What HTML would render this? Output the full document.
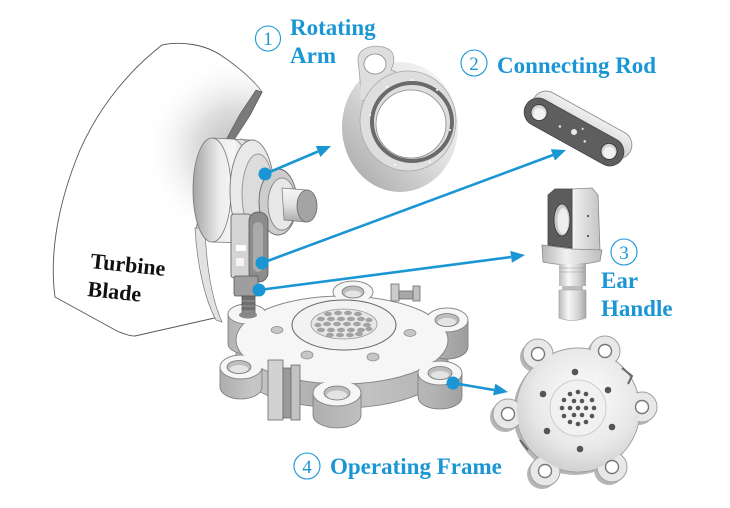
<!DOCTYPE html>
<html><head><meta charset="utf-8"><style>
html,body{margin:0;padding:0;background:#fff;}
svg{display:block;}
.lb{font-family:"Liberation Serif",serif;font-weight:bold;font-size:23px;fill:#1a96d4;}
.num{font-family:"Liberation Serif",serif;font-size:19px;fill:#1a96d4;}
.tb{font-family:"Liberation Serif",serif;font-weight:bold;font-size:22px;fill:#111;}
</style></head><body>
<svg width="730" height="508" viewBox="0 0 730 508" xmlns="http://www.w3.org/2000/svg">
<defs>
 <linearGradient id="hubG" gradientUnits="userSpaceOnUse" x1="193" y1="0" x2="252" y2="0">
  <stop offset="0" stop-color="#a4a4a4"/><stop offset="0.45" stop-color="#ececec"/><stop offset="0.7" stop-color="#f6f6f6"/><stop offset="1" stop-color="#c4c4c4"/>
 </linearGradient>
 <linearGradient id="shaftG" gradientUnits="userSpaceOnUse" x1="0" y1="188" x2="0" y2="222">
  <stop offset="0" stop-color="#f6f6f6"/><stop offset="0.5" stop-color="#e2e2e2"/><stop offset="1" stop-color="#a8a8a8"/>
 </linearGradient>
 <linearGradient id="wallG" gradientUnits="userSpaceOnUse" x1="214" y1="0" x2="470" y2="0">
  <stop offset="0" stop-color="#a8a8a8"/><stop offset="0.15" stop-color="#c6c6c6"/><stop offset="0.4" stop-color="#b0b0b0"/><stop offset="0.6" stop-color="#c2c2c2"/><stop offset="0.85" stop-color="#b4b4b4"/><stop offset="1" stop-color="#9c9c9c"/>
 </linearGradient>
 <linearGradient id="diskG" x1="1" y1="0" x2="0" y2="1">
  <stop offset="0" stop-color="#fbfbfb"/><stop offset="0.45" stop-color="#e0e0e0"/><stop offset="1" stop-color="#a2a2a2"/>
 </linearGradient>
 <radialGradient id="bladeShade" gradientUnits="userSpaceOnUse" cx="238" cy="150" r="95">
  <stop offset="0" stop-color="#bcbcbc"/><stop offset="0.45" stop-color="#dedede"/><stop offset="1" stop-color="#ffffff" stop-opacity="0"/>
 </radialGradient>
 <radialGradient id="smallG" cx="0.55" cy="0.4" r="0.6">
  <stop offset="0" stop-color="#fdfdfd"/><stop offset="0.7" stop-color="#e8e8e8"/><stop offset="1" stop-color="#d2d2d2"/>
 </radialGradient>
 <linearGradient id="earSh" gradientUnits="userSpaceOnUse" x1="558" y1="0" x2="588" y2="0">
  <stop offset="0" stop-color="#b4b4b4"/><stop offset="0.35" stop-color="#f8f8f8"/><stop offset="0.7" stop-color="#d0d0d0"/><stop offset="1" stop-color="#9a9a9a"/>
 </linearGradient>
 <linearGradient id="earFl" gradientUnits="userSpaceOnUse" x1="542" y1="0" x2="603" y2="0">
  <stop offset="0" stop-color="#b8b8b8"/><stop offset="0.4" stop-color="#f0f0f0"/><stop offset="1" stop-color="#bcbcbc"/>
 </linearGradient>
 <linearGradient id="earR" gradientUnits="userSpaceOnUse" x1="572" y1="0" x2="600" y2="0">
  <stop offset="0" stop-color="#f2f2f2"/><stop offset="1" stop-color="#c4c4c4"/>
 </linearGradient>
 <linearGradient id="rodB" x1="0" y1="0" x2="0" y2="1">
  <stop offset="0" stop-color="#f0f0f0"/><stop offset="1" stop-color="#c8c8c8"/>
 </linearGradient>
 <clipPath id="bladeClip"><path d="M162,45 C180,41 205,44 222,56 C240,68 255,82 262,92 L250,115 L228,140 L205,185 L196,230 C200,270 210,298 218,312 L219,317 L135,336 C128,336 122,333 117,331 L55,297 C50,260 55,210 80,150 C100,105 130,70 162,45 Z"/></clipPath>
</defs>

<!-- Turbine blade -->
<path d="M162,45 C180,41 205,44 222,56 C240,68 255,82 262,92 L250,115 L228,140 L205,185 L196,230 C200,270 210,298 218,312 L219,317 L135,336 C128,336 122,333 117,331 L55,297 C50,260 55,210 80,150 C100,105 130,70 162,45 Z" fill="#fff" stroke="#555" stroke-width="0.9"/>
<rect x="120" y="40" width="150" height="220" fill="url(#bladeShade)" clip-path="url(#bladeClip)"/>
<path d="M262,92 L256,90 L240,114 L226,140 L234,140 L249,117 Z" fill="#7a7a7a" stroke="#555" stroke-width="0.6"/>
<path d="M195,228 C197,265 205,300 216,320 L222,322 C212,300 206,265 205,228 Z" fill="#e2e2e2" stroke="#777" stroke-width="0.7"/>

<!-- Operating frame (big) walls -->
<g fill="url(#wallG)" stroke="#7a7a7a" stroke-width="0.8">
 <path d="M236,340 L236,364 A106,44 0 0 0 448,364 L448,340 Z"/>
 <path d="M228,314 L228,344 A19,10 0 0 0 266,344 L266,314 Z"/>
 <path d="M426,320 L426,347 A21,12 0 0 0 468,347 L468,320 Z"/>
 <path d="M418,373 L418,397 A22,12 0 0 0 462,397 L462,373 Z"/>
 <path d="M313,393 L313,415 A24,13 0 0 0 361,415 L361,393 Z"/>
 <path d="M220,367 L220,387 A21,12 0 0 0 262,387 L262,367 Z"/>
</g>
<g fill="#f6f6f6" stroke="#8a8a8a" stroke-width="1">
 <ellipse cx="342" cy="340" rx="106" ry="44"/>
 <ellipse cx="247" cy="314" rx="19" ry="10"/>
 <ellipse cx="353" cy="292" rx="20" ry="11"/>
 <ellipse cx="447" cy="320" rx="21" ry="12"/>
 <ellipse cx="440" cy="373" rx="22" ry="12"/>
 <ellipse cx="337" cy="393" rx="24" ry="13"/>
 <ellipse cx="241" cy="367" rx="21" ry="12"/>
</g>
<g fill="#f6f6f6">
 <ellipse cx="342" cy="340" rx="105" ry="43"/>
 <ellipse cx="247" cy="314" rx="18" ry="9"/>
 <ellipse cx="353" cy="292" rx="19" ry="10"/>
 <ellipse cx="447" cy="320" rx="20" ry="11"/>
 <ellipse cx="440" cy="373" rx="21" ry="11"/>
 <ellipse cx="337" cy="393" rx="23" ry="12"/>
 <ellipse cx="241" cy="367" rx="20" ry="11"/>
</g>
<g fill="#bdbdbd" stroke="#777" stroke-width="0.8">
 <ellipse cx="353" cy="292" rx="11" ry="6"/>
 <ellipse cx="447" cy="320" rx="12" ry="6.5"/>
 <ellipse cx="440" cy="373" rx="12" ry="6.5"/>
 <ellipse cx="337" cy="393" rx="13" ry="7"/>
 <ellipse cx="239" cy="367" rx="12" ry="6.5"/>
</g>
<g fill="#e4e4e4">
 <ellipse cx="353" cy="294" rx="8" ry="3.5"/>
 <ellipse cx="447" cy="322" rx="9" ry="4"/>
 <ellipse cx="440" cy="375" rx="9" ry="4"/>
 <ellipse cx="337" cy="395" rx="10" ry="4.5"/>
 <ellipse cx="239" cy="369" rx="9" ry="4"/>
</g>
<g fill="#c6c6c6" stroke="#888" stroke-width="0.7">
 <ellipse cx="277" cy="330" rx="6" ry="3.5"/>
 <ellipse cx="307" cy="355" rx="6" ry="4"/>
 <ellipse cx="373" cy="357" rx="6" ry="4"/>
 <ellipse cx="410" cy="333" rx="6" ry="3.5"/>
</g>
<ellipse cx="344" cy="325" rx="52" ry="25" fill="#f2f2f2" stroke="#666" stroke-width="1"/>
<ellipse cx="344" cy="324" rx="33" ry="15" fill="#e6e6e6" stroke="#999" stroke-width="0.8"/>
<g fill="#a2a2a2">
 <ellipse cx="328" cy="314" rx="4" ry="2.2"/><ellipse cx="338" cy="313" rx="4" ry="2.2"/><ellipse cx="348" cy="313" rx="4" ry="2.2"/><ellipse cx="358" cy="314" rx="4" ry="2.2"/>
 <ellipse cx="321" cy="319" rx="4" ry="2.2"/><ellipse cx="331" cy="319" rx="4" ry="2.2"/><ellipse cx="341" cy="319" rx="4" ry="2.2"/><ellipse cx="351" cy="319" rx="4" ry="2.2"/><ellipse cx="361" cy="319" rx="4" ry="2.2"/><ellipse cx="369" cy="320" rx="3.5" ry="2.2"/>
 <ellipse cx="318" cy="325" rx="3.5" ry="2.2"/><ellipse cx="327" cy="324" rx="4" ry="2.2"/><ellipse cx="337" cy="324" rx="4" ry="2.2"/><ellipse cx="347" cy="324" rx="4" ry="2.2"/><ellipse cx="357" cy="324" rx="4" ry="2.2"/><ellipse cx="367" cy="325" rx="4" ry="2.2"/>
 <ellipse cx="321" cy="330" rx="4" ry="2.2"/><ellipse cx="331" cy="330" rx="4" ry="2.2"/><ellipse cx="341" cy="330" rx="4" ry="2.2"/><ellipse cx="351" cy="330" rx="4" ry="2.2"/><ellipse cx="361" cy="330" rx="4" ry="2.2"/><ellipse cx="369" cy="329" rx="3.5" ry="2.2"/>
 <ellipse cx="330" cy="335" rx="4" ry="2.2"/><ellipse cx="340" cy="335" rx="4" ry="2.2"/><ellipse cx="350" cy="335" rx="4" ry="2.2"/><ellipse cx="359" cy="334" rx="4" ry="2.2"/>
</g>
<g stroke="#6a6a6a" stroke-width="0.8">
 <rect x="268" y="360" width="15" height="60" fill="#d2d2d2"/>
 <rect x="283" y="368" width="8" height="50" fill="#9a9a9a"/>
 <rect x="291" y="365" width="9" height="55" fill="#c2c2c2"/>
 <rect x="391" y="284" width="8" height="17" fill="#cbcbcb"/>
 <rect x="399" y="291" width="14" height="8" fill="#a8a8a8"/>
 <rect x="413" y="286" width="7" height="15" fill="#c0c0c0"/>
</g>

<!-- Hub -->
<path d="M212,138 L250,140 L250,243 L212,242 Z" fill="url(#hubG)"/>
<ellipse cx="212" cy="190" rx="19" ry="52" fill="url(#hubG)" stroke="#777" stroke-width="0.8"/>
<path d="M212,138 L250,140 M212,242 L250,243" stroke="#777" stroke-width="0.8" fill="none"/>
<path d="M232,139 A20,52 0 0 1 232,243 M240,139 A20,52 0 0 1 240,243" stroke="#888" stroke-width="0.8" fill="none"/>
<ellipse cx="252" cy="191" rx="22" ry="51" fill="#e9e9e9" stroke="#7a7a7a" stroke-width="0.9"/>
<ellipse cx="258" cy="194" rx="16" ry="40" fill="#dcdcdc" stroke="#888" stroke-width="0.8"/>
<ellipse cx="278" cy="202" rx="19" ry="33" fill="#cdcdcd" stroke="#666" stroke-width="0.9"/>
<ellipse cx="282" cy="204" rx="14" ry="26" fill="#e8e8e8" stroke="#777" stroke-width="0.8"/>
<path d="M282,188 L306,190 L306,222 L284,220 Z" fill="url(#shaftG)" stroke="#777" stroke-width="0.7"/>
<ellipse cx="307" cy="206" rx="10" ry="16" fill="#a4a4a4" stroke="#666" stroke-width="0.8"/>

<!-- Linkage -->
<g stroke="#555" stroke-width="0.8">
 <rect x="231" y="214" width="20" height="64" rx="3" fill="#d4d4d4"/>
 <rect x="249" y="212" width="19" height="70" rx="9" fill="#8c8c8c"/>
 <rect x="253" y="222" width="10" height="50" rx="5" fill="#aaa" stroke="none"/>
 <rect x="234" y="276" width="24" height="20" rx="2" fill="#9e9e9e"/>
 <rect x="242" y="296" width="13" height="19" fill="#6e6e6e"/>
</g>
<rect x="236" y="245" width="10" height="6" fill="#fff"/>
<rect x="236" y="258" width="8" height="8" fill="#f4f4f4"/>
<path d="M242,301 H255 M242,306 H255 M242,311 H255" stroke="#aaa" stroke-width="0.8"/>
<ellipse cx="248" cy="315" rx="9" ry="3.5" fill="#888"/>

<!-- Rotating arm -->
<ellipse cx="400" cy="127" rx="58" ry="65" fill="url(#diskG)"/>
<path d="M358,60 C357,47 378,42 390,50 C396,56 394,63 391,70 L440,90 L455,120 L362,100 Z" fill="#dedede" stroke="#a0a0a0" stroke-width="0.8"/>
<ellipse cx="408" cy="121" rx="48" ry="50" fill="#dedede" stroke="#a8a8a8" stroke-width="0.8"/>
<path d="M362,62 L362,100" stroke="#dedede" stroke-width="3"/>
<ellipse cx="412" cy="122" rx="40" ry="39" fill="none" stroke="#6a6a6a" stroke-width="4"/>
<ellipse cx="411" cy="124" rx="35" ry="34" fill="#fff" stroke="#888" stroke-width="0.8"/>
<ellipse cx="375" cy="64" rx="11" ry="10" fill="#fff" stroke="#888" stroke-width="0.8"/>
<g fill="#fff"><circle cx="387" cy="87" r="1"/><circle cx="412" cy="80" r="1"/><circle cx="437" cy="90" r="1"/><circle cx="370" cy="115" r="1"/><circle cx="450" cy="130" r="1"/><circle cx="395" cy="165" r="1"/><circle cx="430" cy="162" r="1"/></g>

<!-- Connecting rod -->
<g transform="translate(582,125) rotate(29)"><rect x="-55" y="-14" width="110" height="28" rx="14" fill="url(#rodB)" stroke="#888" stroke-width="0.8"/></g>
<g transform="translate(574,132) rotate(29)">
 <rect x="-55" y="-14" width="110" height="28" rx="14" fill="#5e5e5e" stroke="#444" stroke-width="0.8"/>
 <circle cx="-40" cy="0" r="8" fill="#d4d4d4" stroke="#333" stroke-width="0.8"/>
 <circle cx="-39" cy="1" r="6" fill="#f2f2f2"/>
 <circle cx="40" cy="0" r="8" fill="#d4d4d4" stroke="#333" stroke-width="0.8"/>
 <circle cx="41" cy="1" r="6" fill="#f2f2f2"/>
 <circle cx="0" cy="0" r="3" fill="#e8e8e8"/>
 <circle cx="-15" cy="2" r="1.3" fill="#ddd"/><circle cx="14" cy="3" r="1.3" fill="#ddd"/><circle cx="6" cy="-7" r="1.1" fill="#ddd"/>
</g>

<!-- Ear handle -->
<polygon points="572,189 592,188 598,195 600,250 572,250" fill="url(#earR)" stroke="#888" stroke-width="0.8"/>
<polygon points="548,195 555,189 572,189 572,248 548,245" fill="#5c5c5c" stroke="#444" stroke-width="0.8"/>
<ellipse cx="562" cy="220" rx="8" ry="16" fill="#c8c8c8" stroke="#333" stroke-width="0.8"/>
<ellipse cx="563" cy="221" rx="5.5" ry="13" fill="#eee"/>
<circle cx="588" cy="216" r="1" fill="#333"/><circle cx="588" cy="236" r="1" fill="#333"/>
<path d="M542,245 L572,249 L602,250 L600,261 Q572,268 543,262 Z" fill="url(#earFl)" stroke="#888" stroke-width="0.8"/>
<rect x="559" y="264" width="27" height="22" fill="url(#earSh)"/>
<path d="M559,268 H586 M559,272 H586" stroke="#999" stroke-width="0.6"/>
<rect x="562" y="286" width="21" height="4" fill="#bdbdbd"/>
<path d="M559,290 L586,290 L586,318 Q572,323 559,318 Z" fill="url(#earSh)" stroke="#999" stroke-width="0.6"/>

<!-- Small operating frame -->
<g fill="#b6b6b6" transform="translate(-3,3)">
 <circle cx="578" cy="410" r="62"/>
 <circle cx="538" cy="354" r="15"/><circle cx="605" cy="351" r="15"/><circle cx="642" cy="407" r="15"/>
 <circle cx="612" cy="467" r="15"/><circle cx="545" cy="471" r="15"/><circle cx="508" cy="414" r="15"/>
</g>
<g fill="#e8e8e8" stroke="#a0a0a0" stroke-width="1">
 <circle cx="578" cy="410" r="62"/>
 <circle cx="538" cy="354" r="15"/><circle cx="605" cy="351" r="15"/><circle cx="642" cy="407" r="15"/>
 <circle cx="612" cy="467" r="15"/><circle cx="545" cy="471" r="15"/><circle cx="508" cy="414" r="15"/>
</g>
<g fill="#e8e8e8">
 <circle cx="538" cy="354" r="14"/><circle cx="605" cy="351" r="14"/><circle cx="642" cy="407" r="14"/>
 <circle cx="612" cy="467" r="14"/><circle cx="545" cy="471" r="14"/><circle cx="508" cy="414" r="14"/>
</g>
<circle cx="578" cy="410" r="61" fill="url(#smallG)"/>
<g fill="#fff" stroke="#777" stroke-width="1.4">
 <circle cx="538" cy="354" r="6.5"/><circle cx="605" cy="351" r="6.5"/><circle cx="642" cy="407" r="6.5"/>
 <circle cx="612" cy="467" r="6.5"/><circle cx="545" cy="471" r="6.5"/><circle cx="508" cy="414" r="6.5"/>
</g>
<circle cx="578" cy="408" r="28" fill="#f1f1f1" stroke="#c4c4c4" stroke-width="0.8"/>
<g fill="#555">
 <circle cx="578" cy="408" r="2.3"/>
 <circle cx="586" cy="408" r="2.3"/><circle cx="582" cy="415" r="2.3"/><circle cx="574" cy="415" r="2.3"/><circle cx="570" cy="408" r="2.3"/><circle cx="574" cy="401" r="2.3"/><circle cx="582" cy="401" r="2.3"/>
 <circle cx="594" cy="408" r="2.3"/><circle cx="592" cy="416" r="2.3"/><circle cx="586" cy="422" r="2.3"/><circle cx="578" cy="424" r="2.3"/><circle cx="570" cy="422" r="2.3"/><circle cx="564" cy="416" r="2.3"/>
 <circle cx="562" cy="408" r="2.3"/><circle cx="564" cy="400" r="2.3"/><circle cx="570" cy="394" r="2.3"/><circle cx="578" cy="392" r="2.3"/><circle cx="586" cy="394" r="2.3"/><circle cx="592" cy="400" r="2.3"/>
</g>
<g fill="#555">
 <circle cx="575" cy="372" r="3.3"/><circle cx="608" cy="390" r="3.3"/><circle cx="612" cy="427" r="3.3"/>
 <circle cx="580" cy="449" r="3.3"/><circle cx="547" cy="431" r="3.3"/><circle cx="543" cy="394" r="3.3"/>
</g>
<path d="M622,368 L632,376 L628,384 M520,440 L528,450" stroke="#666" stroke-width="2" fill="none"/>

<!-- Arrows -->
<g stroke="#1a96d4" stroke-width="2.6" fill="none">
 <line x1="265" y1="174" x2="318" y2="151.5"/>
 <line x1="262" y1="263" x2="553" y2="155"/>
 <line x1="259" y1="290" x2="511" y2="257"/>
 <line x1="453" y1="383" x2="494" y2="390"/>
</g>
<g fill="#1a96d4">
 <circle cx="265" cy="174" r="6.5"/>
 <polygon points="331,146 320.4,157 315.8,146"/>
 <circle cx="262" cy="263" r="6.5"/>
 <polygon points="566,150 555,160.5 550.8,149.3"/>
 <circle cx="259" cy="290" r="6.5"/>
 <polygon points="525,255 511.9,262.7 510.3,250.9"/>
 <circle cx="453" cy="383" r="6.5"/>
 <polygon points="508,392 493.1,395.4 495.3,383.6"/>
</g>

<!-- Labels -->
<g fill="none" stroke="#1a96d4" stroke-width="1.1">
 <circle cx="268" cy="38.5" r="12.5"/>
 <circle cx="474" cy="63" r="13"/>
 <circle cx="624" cy="252" r="13"/>
 <circle cx="307" cy="466" r="13"/>
</g>
<text class="num" x="268" y="45" text-anchor="middle">1</text>
<text class="num" x="474" y="70" text-anchor="middle">2</text>
<text class="num" x="624" y="259" text-anchor="middle">3</text>
<text class="num" x="307" y="473" text-anchor="middle">4</text>
<text class="lb" x="290" y="35">Rotating</text>
<text class="lb" x="290" y="63">Arm</text>
<text class="lb" x="497" y="73">Connecting Rod</text>
<text class="lb" x="601" y="288">Ear</text>
<text class="lb" x="601" y="316">Handle</text>
<text class="lb" x="330" y="474">Operating Frame</text>
<text class="tb" x="90" y="268" transform="rotate(6 90 268)">Turbine</text>
<text class="tb" x="87" y="296" transform="rotate(6 87 296)">Blade</text>
</svg>
</body></html>
